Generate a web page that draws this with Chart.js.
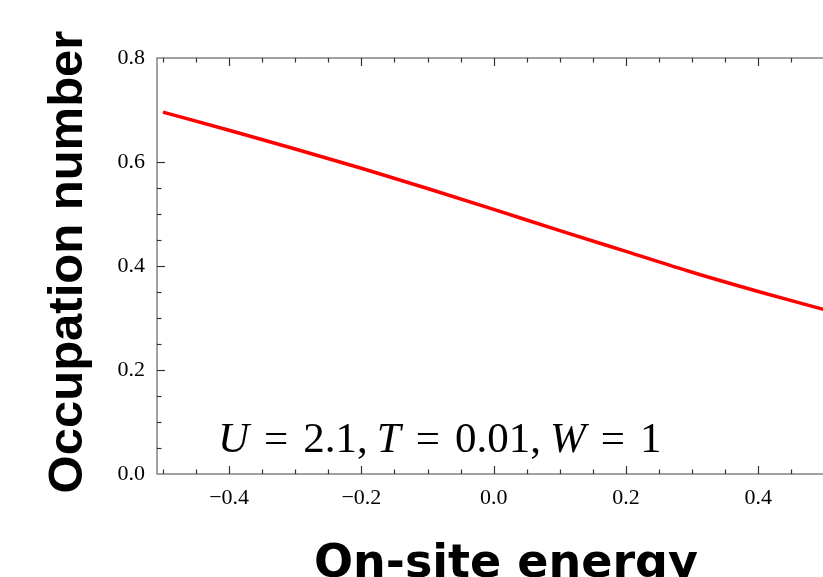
<!DOCTYPE html>
<html lang="en">
<head>
    <meta charset="UTF-8">
    <title>Occupation number</title>
    <style>
        html, body { margin: 0; padding: 0; overflow: hidden; background: #fff; }
    </style>
</head>
<body>

<div>
    <canvas id="myChart" width="840" height="577"></canvas>
</div>

<script src="https://cdn.jsdelivr.net/npm/chart.js"></script>

<script>
    const ctx = document.getElementById('myChart');

    // on-site energy and occupation number
    const energy = [-0.5, -0.4, -0.3, -0.2, -0.1, 0.0, 0.1, 0.2, 0.3, 0.4, 0.5];
    const occupation = [0.696, 0.661, 0.625, 0.588, 0.549, 0.509, 0.468, 0.428, 0.388, 0.351, 0.316];

    const xTicks = [-0.4, -0.2, 0.0, 0.2, 0.4];
    const yTicks = [0.0, 0.2, 0.4, 0.6, 0.8];
    const xTitle = 'On-site energy';
    const yTitle = 'Occupation number';

    const fmt = v => (v < 0 ? '\u2212' : '') + Math.abs(v).toFixed(1);

    // Mathematica-like frame with inward major/minor ticks, titles and the label
    const framePlugin = {
        id: 'frame',
        afterDraw(chart) {
            const c = chart.ctx;
            const a = chart.chartArea;
            const xs = chart.scales.x, ys = chart.scales.y;
            c.save();
            c.strokeStyle = '#7a7a7a';
            c.lineWidth = 1.4;
            c.strokeRect(a.left, a.top, a.right - a.left, a.bottom - a.top);

            c.strokeStyle = '#333';
            c.lineWidth = 1.2;
            for (let i = -12; i <= 12; i++) {
                const v = i * 0.05;
                const major = i % 4 === 0;
                const len = major ? 8 : 4.5;
                if (v >= xs.min && v <= xs.max) {
                    const px = Math.round(xs.getPixelForValue(v)) + 0.5;
                    c.beginPath();
                    c.moveTo(px, a.bottom); c.lineTo(px, a.bottom - len);
                    c.moveTo(px, a.top); c.lineTo(px, a.top + len);
                    c.stroke();
                }
                if (v > ys.min && v < ys.max) {
                    const py = Math.round(ys.getPixelForValue(v)) + 0.5;
                    c.beginPath();
                    c.moveTo(a.left, py); c.lineTo(a.left + len, py);
                    c.stroke();
                }
            }

            // axis titles
            c.fillStyle = '#000';
            c.textAlign = 'center';
            c.textBaseline = 'alphabetic';
            c.font = 'bold 46px "DejaVu Sans"';
            c.fillText(xTitle, 506, 577);
            c.save();
            c.translate(82, 262);
            c.rotate(-Math.PI / 2);
            c.font = 'bold 49px "Liberation Sans"';
            c.fillText(yTitle, 0, 0);
            c.restore();

            // parameter label, TeX-like spacing: thick around '=', thin after ','
            const thick = 15, thin = 9;
            const parts = [
                ['U', true, thick], ['=', false, thick], ['2.1,', false, thin],
                ['T', true, thick], ['=', false, thick], ['0.01,', false, thin],
                ['W', true, thick], ['=', false, thick], ['1', false, 0]
            ];
            let x = 218;
            const y = 452;
            c.textAlign = 'left';
            parts.forEach(([t, it, gap]) => {
                c.font = (it ? 'italic ' : '') + '43px "Liberation Serif"';
                c.fillText(t, x, y);
                x += c.measureText(t).width + gap;
            });
            c.restore();
        }
    };

    const config = {
        type: 'line',
        data: {
            labels: energy,
            datasets: [
                {
                    label: 'occupation',
                    data: energy.map((e, i) => ({x: e, y: occupation[i]})),
                    borderColor: '#ff0000',
                    borderWidth: 3.5,
                    pointRadius: 0,
                    cubicInterpolationMode: 'monotone',
                    fill: false
                }
            ]
        },
        options: {
            responsive: false,
            animation: false,
            layout: {
                padding: {top: 58, right: 9, left: 0, bottom: 0}
            },
            scales: {
                x: {
                    type: 'linear',
                    min: -0.509,
                    max: 0.51,
                    grid: {display: false, drawTicks: false},
                    border: {display: false},
                    afterBuildTicks: s => { s.ticks = xTicks.map(v => ({value: v})); },
                    afterFit: s => { s.height = 577 - 474; },
                    ticks: {
                        padding: 11,
                        color: '#000',
                        font: {family: '"Liberation Serif"', size: 22},
                        callback: v => fmt(v)
                    }
                },
                y: {
                    min: 0,
                    max: 0.8,
                    grid: {display: false, drawTicks: false},
                    border: {display: false},
                    afterBuildTicks: s => { s.ticks = yTicks.map(v => ({value: v})); },
                    afterFit: s => { s.width = 157; },
                    ticks: {
                        padding: 12,
                        color: '#000',
                        font: {family: '"Liberation Serif"', size: 22},
                        callback: v => fmt(v)
                    }
                }
            },
            plugins: {
                legend: {display: false},
                tooltip: {enabled: false}
            }
        },
        plugins: [framePlugin]
    };
    new Chart(ctx, config);
</script>

</body>
</html>
